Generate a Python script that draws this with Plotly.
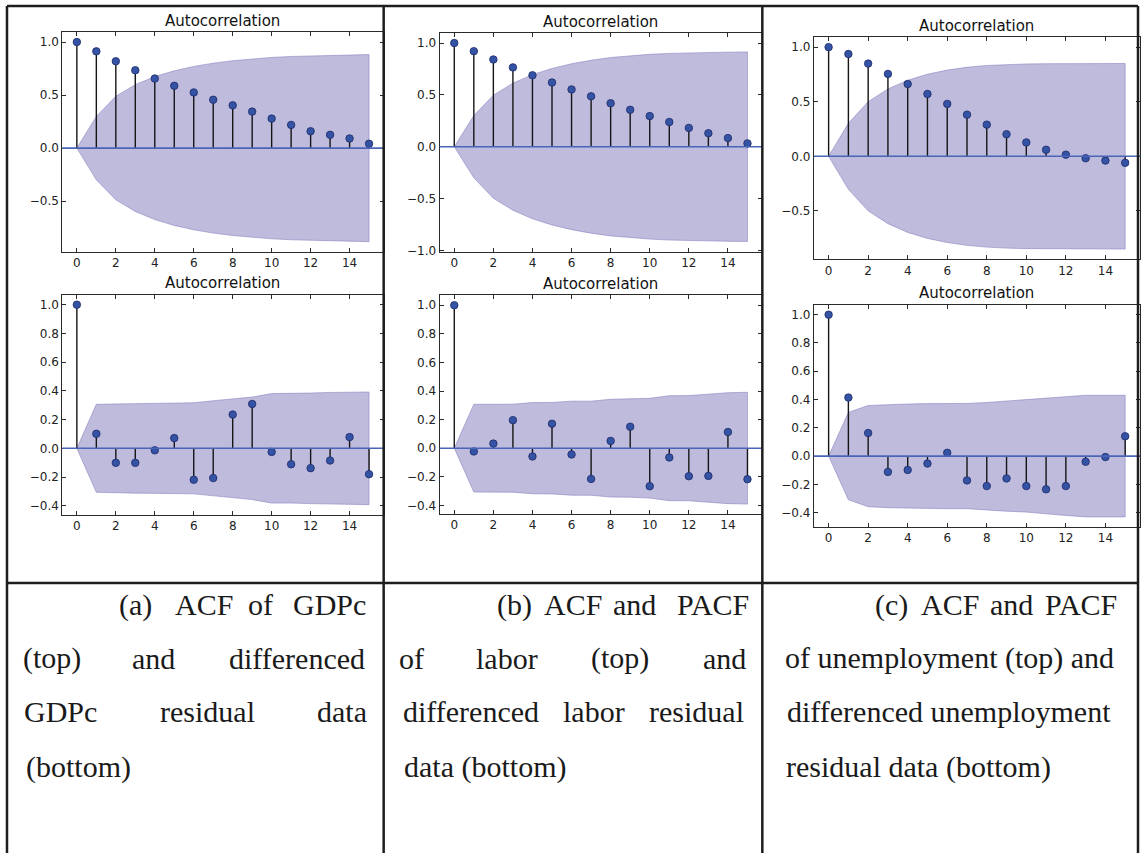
import plotly.graph_objects as go

W, H = 1141, 859

lags = list(range(16))

# (a) GDPc
acf_gdpc = [1.0, 0.912, 0.819, 0.734, 0.656, 0.587, 0.525, 0.456, 0.403, 0.344, 0.278, 0.219, 0.159, 0.125, 0.091, 0.041]
conf_gdpc = [0.0, 0.299, 0.488, 0.598, 0.674, 0.729, 0.770, 0.801, 0.824, 0.842, 0.855, 0.864, 0.870, 0.874, 0.878, 0.882]
acf_gdpc_resid = [1.0, 0.101, -0.101, -0.101, -0.014, 0.071, -0.219, -0.207, 0.235, 0.309, -0.025, -0.111, -0.138, -0.085, 0.078, -0.180]
conf_gdpc_resid = [0.0, 0.306, 0.309, 0.312, 0.315, 0.315, 0.317, 0.331, 0.343, 0.357, 0.381, 0.381, 0.385, 0.389, 0.391, 0.392]

# (b) labor
acf_labor = [1.0, 0.921, 0.841, 0.765, 0.689, 0.619, 0.552, 0.486, 0.419, 0.356, 0.295, 0.238, 0.181, 0.130, 0.083, 0.032]
conf_labor = [0.0, 0.300, 0.497, 0.613, 0.695, 0.755, 0.800, 0.834, 0.860, 0.878, 0.891, 0.900, 0.906, 0.910, 0.912, 0.914]
acf_labor_resid = [1.0, -0.023, 0.032, 0.196, -0.058, 0.171, -0.044, -0.215, 0.051, 0.150, -0.266, -0.065, -0.196, -0.194, 0.113, -0.217]
conf_labor_resid = [0.0, 0.307, 0.307, 0.308, 0.319, 0.320, 0.329, 0.329, 0.342, 0.343, 0.349, 0.367, 0.368, 0.378, 0.388, 0.391]

# (c) unemployment
acf_unemp = [1.0, 0.937, 0.849, 0.755, 0.662, 0.571, 0.480, 0.381, 0.290, 0.202, 0.127, 0.060, 0.015, -0.018, -0.039, -0.060]
conf_unemp = [0.0, 0.302, 0.500, 0.617, 0.697, 0.752, 0.790, 0.816, 0.832, 0.841, 0.846, 0.848, 0.849, 0.850, 0.850, 0.850]
acf_unemp_resid = [1.0, 0.414, 0.163, -0.112, -0.098, -0.053, 0.023, -0.172, -0.212, -0.158, -0.212, -0.235, -0.212, -0.040, -0.007, 0.140]
conf_unemp_resid = [0.0, 0.309, 0.358, 0.365, 0.368, 0.371, 0.372, 0.372, 0.379, 0.390, 0.396, 0.407, 0.420, 0.430, 0.430, 0.430]

x_tick_vals = [0, 2, 4, 6, 8, 10, 12, 14]
x_tick_text = ["0", "2", "4", "6", "8", "10", "12", "14"]
y_tick_vals_top = [-1.0, -0.5, 0.0, 0.5, 1.0]
y_tick_text_top = ["\u22121.0", "\u22120.5", "0.0", "0.5", "1.0"]
y_tick_vals_bot = [-0.4, -0.2, 0.0, 0.2, 0.4, 0.6, 0.8, 1.0]
y_tick_text_bot = ["\u22120.4", "\u22120.2", "0.0", "0.2", "0.4", "0.6", "0.8", "1.0"]

plot_title = "Autocorrelation"

# panel layout in pixels: (left, right, top, bottom), y-range, which ticks
panels = [
    (acf_gdpc, conf_gdpc, (62.3, 384.0, 32.3, 253.3), (-0.975, 1.094), "top"),
    (acf_gdpc_resid, conf_gdpc_resid, (62.3, 384.0, 296.7, 518.3), (-0.462, 1.070), "bot"),
    (acf_labor, conf_labor, (440.0, 762.8, 33.3, 253.3), (-1.011, 1.096), "top"),
    (acf_labor_resid, conf_labor_resid, (440.0, 762.8, 297.3, 517.7), (-0.461, 1.070), "bot"),
    (acf_unemp, conf_unemp, (814.5, 1141.0, 37.3, 261.0), (-0.9425, 1.0925), "top"),
    (acf_unemp_resid, conf_unemp_resid, (814.5, 1141.0, 306.7, 530.7), (-0.5015, 1.0715), "bot"),
]

BAND_FILL = "rgb(190,187,221)"
BAND_EDGE = "rgba(130,125,190,0.55)"
STEM = "#151515"
MARKER = "#3553a5"
MARKER_EDGE = "#1c2a66"
ZERO = "#4a64b8"
FRAME = "#2a2a2a"

fig = go.Figure()
layout = dict(
    width=W, height=H,
    margin=dict(l=0, r=0, t=0, b=0),
    paper_bgcolor="white",
    plot_bgcolor="white",
    showlegend=False,
    shapes=[],
    annotations=[],
)

for i, (vals, conf, (l, r, t, b), yr, kind) in enumerate(panels):
    n = i + 1
    xa = "x" if n == 1 else f"x{n}"
    ya = "y" if n == 1 else f"y{n}"
    # confidence band
    bx = lags + lags[::-1]
    by = conf + [-c for c in conf[::-1]]
    fig.add_trace(go.Scatter(x=bx, y=by, fill="toself", fillcolor=BAND_FILL,
                             mode="lines", line=dict(color=BAND_EDGE, width=1),
                             xaxis=xa, yaxis=ya, hoverinfo="skip"))
    # stems
    sx, sy = [], []
    for k, v in zip(lags, vals):
        sx += [k, k, None]
        sy += [0, v, None]
    fig.add_trace(go.Scatter(x=sx, y=sy, mode="lines", line=dict(color=STEM, width=1.4),
                             xaxis=xa, yaxis=ya, hoverinfo="skip"))
    # markers
    fig.add_trace(go.Scatter(x=lags, y=vals, mode="markers",
                             marker=dict(size=7.5, color=MARKER, line=dict(color=MARKER_EDGE, width=0.8)),
                             xaxis=xa, yaxis=ya))
    # zero line
    layout["shapes"].append(dict(type="line", xref=f"{xa} domain", yref=ya, x0=0, x1=1, y0=0, y1=0,
                                 line=dict(color=ZERO, width=1.6), layer="above"))
    axkey_x = "xaxis" if n == 1 else f"xaxis{n}"
    axkey_y = "yaxis" if n == 1 else f"yaxis{n}"
    common = dict(showline=True, linecolor=FRAME, linewidth=1, mirror="allticks",
                  ticks="inside", ticklen=4, tickwidth=1, tickcolor=FRAME,
                  showgrid=False, zeroline=False,
                  tickfont=dict(family="DejaVu Sans", size=12, color="#222"))
    layout[axkey_x] = dict(domain=[l / W, min(r / W, 1.0)], range=[-0.75, 15.75], anchor=ya,
                           tickvals=x_tick_vals, ticktext=x_tick_text, **common)
    if kind == "top":
        tv, tt = y_tick_vals_top, y_tick_text_top
    else:
        tv, tt = y_tick_vals_bot, y_tick_text_bot
    layout[axkey_y] = dict(domain=[1 - b / H, 1 - t / H], range=list(yr), anchor=xa,
                           tickvals=tv, ticktext=tt, **common)
    layout["annotations"].append(dict(text=plot_title, xref="paper", yref="paper",
                                      x=((l + r) / 2) / W, y=1 - (t - 11.5) / H,
                                      xanchor="center", yanchor="middle", showarrow=False,
                                      font=dict(family="DejaVu Sans", size=15, color="#111")))

# table borders (pixels)
LINE = dict(color="#1e1e1e", width=2.5)
table_lines = [
    (7, 6, 1139, 6),
    (7, 6, 7, 859),
    (384, 6, 384, 859),
    (763, 6, 763, 859),
    (1139, 6, 1139, 859),
    (7, 587, 1139, 587),
]
for x0, y0, x1, y1 in table_lines:
    layout["shapes"].append(dict(type="line", xref="paper", yref="paper",
                                 x0=x0 / W, x1=x1 / W, y0=1 - y0 / H, y1=1 - y1 / H,
                                 line=LINE, layer="above"))

# captions (word, center x px, line center y px)
line_y = [609, 663, 717, 772]
caption_words = [
    ("(a)", 136, 0), ("ACF", 204, 0), ("of", 261, 0), ("GDPc", 330, 0),
    ("(top)", 52, 1), ("and", 154, 1), ("differenced", 297, 1),
    ("GDPc", 61, 2), ("residual", 208, 2), ("data", 342, 2),
    ("(bottom)", 79, 3),
    ("(b)", 515, 0), ("ACF", 574, 0), ("and", 635, 0), ("PACF", 714, 0),
    ("of", 412, 1), ("labor", 507, 1), ("(top)", 621, 1), ("and", 725, 1),
    ("differenced", 471, 2), ("labor", 595, 2), ("residual", 697, 2),
    ("data (bottom)", 485, 3),
    ("(c)", 892, 0), ("ACF", 951, 0), ("and", 1012, 0), ("PACF", 1082, 0),
    ("of unemployment (top) and", 950, 1),
    ("differenced unemployment", 950, 2),
    ("residual data (bottom)", 919, 3),
]
for word, cx, li in caption_words:
    layout["annotations"].append(dict(text=word, xref="paper", yref="paper",
                                      x=cx / W, y=1 - line_y[li] / H,
                                      xanchor="center", yanchor="middle", showarrow=False,
                                      font=dict(family="Liberation Serif", size=30, color="#1a1a1a")))

fig.update_layout(**layout)
fig.write_html("out.html")
